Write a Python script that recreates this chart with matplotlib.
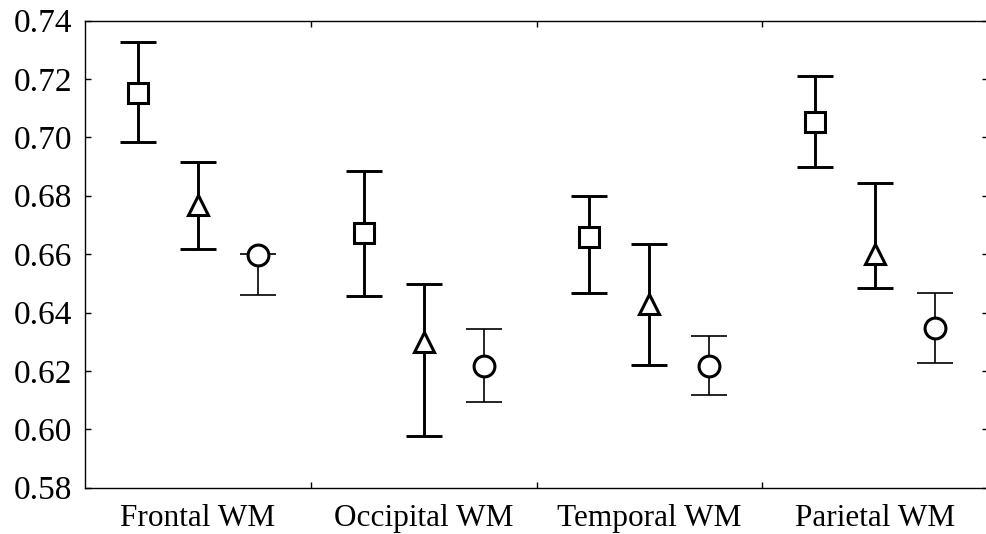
import numpy as np
import matplotlib
matplotlib.use('Agg')
import matplotlib.pyplot as plt

plt.rcParams['font.family'] = ['Liberation Serif', 'DejaVu Serif']

regions = ['Frontal WM', 'Occipital WM', 'Temporal WM', 'Parietal WM']

# square series
sq_mean = [0.7153, 0.6671, 0.6660, 0.7053]
sq_low = [0.6984, 0.6458, 0.6468, 0.6897]
sq_high = [0.7325, 0.6885, 0.6800, 0.7211]

# triangle series
tri_mean = [0.6768, 0.6298, 0.6429, 0.6599]
tri_low = [0.6617, 0.5977, 0.6219, 0.6483]
tri_high = [0.6916, 0.6497, 0.6635, 0.6845]

# circle series
cir_mean = [0.6598, 0.6217, 0.6217, 0.6346]
cir_low = [0.6460, 0.6095, 0.6116, 0.6228]
cir_high = [0.6601, 0.6342, 0.6320, 0.6466]

fig = plt.figure(figsize=(9.86, 5.34), dpi=100)
ax = fig.add_axes([85 / 986, 46.3 / 534, 903 / 986, 467.2 / 534])

x = np.arange(len(regions))
series = [
    (sq_mean, sq_low, sq_high, 's', -0.266, 2.1, 14.5),
    (tri_mean, tri_low, tri_high, '^', 0.0, 2.1, 14.5),
    (cir_mean, cir_low, cir_high, 'o', 0.266, 1.2, 15),
]

for mean, low, high, mk, off, lw, ms in series:
    mean = np.array(mean)
    yerr = [mean - np.array(low), np.array(high) - mean]
    ax.errorbar(x + off, mean, yerr=yerr, fmt='none', ecolor='black',
                elinewidth=lw, capsize=13.3, capthick=lw, zorder=2)
    ax.plot(x + off, mean, linestyle='none', marker=mk, markersize=ms,
            markerfacecolor='white', markeredgecolor='black', markeredgewidth=2.2, zorder=3)

ax.set_xlim(-0.5, 3.5)
ax.set_ylim(0.58, 0.74)
ax.set_yticks(np.arange(0.58, 0.7401, 0.02))
ax.set_yticklabels(['%.2f' % v for v in np.arange(0.58, 0.7401, 0.02)])
ax.set_xticks(x)
ax.set_xticklabels(regions)
ax.set_xticks([0.5, 1.5, 2.5], minor=True)

ax.tick_params(axis='y', which='major', direction='in', length=4, width=1,
               left=True, right=True, labelsize=24, pad=9)
ax.tick_params(axis='x', which='major', length=0, labelsize=22.5, pad=12)
ax.tick_params(axis='x', which='minor', direction='in', length=4, width=1,
               bottom=True, top=True)

for s in ax.spines.values():
    s.set_linewidth(1.0)
# right border falls just outside the picture
ax.spines['right'].set_visible(False)

fig.savefig('out.png', dpi=100)
